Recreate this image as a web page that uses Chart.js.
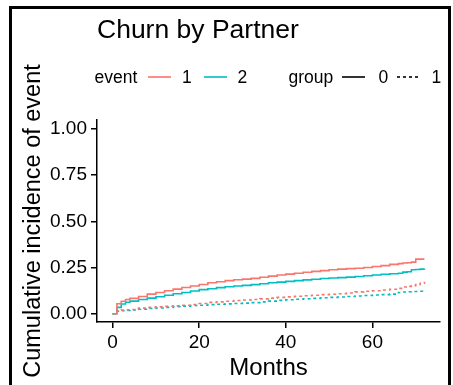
<!DOCTYPE html>
<html>
<head>
<meta charset="utf-8">
<script src="https://cdn.jsdelivr.net/npm/chart.js@4.4.1/dist/chart.umd.min.js"></script>
<style>
  html, body { margin: 0; padding: 0; background: #fff; overflow: hidden; }
  #wrap { position: relative; width: 453px; height: 385px; }
  #frame { position: absolute; left: 9px; top: 6px; width: 436px; height: 400px; border: 3px solid #000; pointer-events: none; }
  #chart { position: absolute; left: 0; top: 0; }
</style>
</head>
<body>
<div id="wrap">
  <canvas id="chart" width="453" height="385"></canvas>
  <div id="frame"></div>
</div>
<script>
// cumulative incidence by month, event (1 = churn, 2 = competing) x partner group
const months = [0, 1, 2, 3, 4, 6, 8, 10, 12, 14, 16, 18, 20, 22, 24, 26, 28, 30, 32, 34, 36, 38,
  40, 42, 44, 46, 48, 50, 52, 54, 56, 58, 60, 62, 64, 66, 67, 68, 69, 70, 71, 72];

const event1Group0 = [0, 0.054, 0.067, 0.077, 0.083, 0.093, 0.106, 0.115, 0.124, 0.133, 0.142, 0.150,
  0.158, 0.167, 0.173, 0.179, 0.184, 0.187, 0.191, 0.197, 0.203, 0.209, 0.214, 0.219, 0.224, 0.229,
  0.233, 0.238, 0.241, 0.244, 0.246, 0.250, 0.255, 0.260, 0.267, 0.271, 0.274, 0.276, 0.279, 0.295,
  0.295, 0.295];

const event2Group0 = [0, 0.034, 0.052, 0.062, 0.068, 0.077, 0.084, 0.092, 0.100, 0.108, 0.115, 0.123,
  0.130, 0.135, 0.141, 0.146, 0.150, 0.153, 0.157, 0.162, 0.167, 0.171, 0.175, 0.179, 0.183, 0.186,
  0.190, 0.193, 0.195, 0.198, 0.201, 0.205, 0.209, 0.213, 0.216, 0.219, 0.225, 0.227, 0.238, 0.239,
  0.241, 0.243];

const event1Group1 = [0, 0.016, 0.019, 0.021, 0.023, 0.030, 0.034, 0.037, 0.040, 0.043, 0.046, 0.050,
  0.055, 0.061, 0.064, 0.067, 0.071, 0.074, 0.077, 0.080, 0.084, 0.088, 0.091, 0.094, 0.097, 0.100,
  0.103, 0.105, 0.108, 0.112, 0.118, 0.121, 0.124, 0.128, 0.132, 0.137, 0.144, 0.148, 0.152, 0.157,
  0.165, 0.173];

const event2Group1 = [0, 0.013, 0.016, 0.018, 0.020, 0.024, 0.028, 0.031, 0.034, 0.038, 0.041, 0.044,
  0.046, 0.049, 0.051, 0.053, 0.055, 0.057, 0.060, 0.064, 0.068, 0.072, 0.075, 0.078, 0.081, 0.083,
  0.086, 0.088, 0.090, 0.093, 0.096, 0.098, 0.101, 0.103, 0.106, 0.115, 0.117, 0.119, 0.120, 0.120,
  0.121, 0.122];

const xTicks = [0, 20, 40, 60];
const yTicks = [0, 0.25, 0.5, 0.75, 1];
const eventLabels = ['1', '2'];
const groupLabels = ['0', '1'];

const RED = '#F8766D';
const CYAN = '#00BFC4';
const FONT = '"Liberation Sans", Arial, sans-serif';
const DOTS = [3, 3];

const toPoints = vals => months.map((m, i) => ({x: m, y: vals[i]}));

function series(label, vals, color, dashed) {
    return {
        label: label,
        data: toPoints(vals),
        borderColor: color,
        borderWidth: 1.6,
        borderDash: dashed ? DOTS : [],
        pointRadius: 0,
        stepped: true,
        fill: false
    };
}

// title + ggplot-style two-part legend drawn straight onto the canvas
const headerPlugin = {
    id: 'header',
    afterDraw(chart) {
        const ctx = chart.ctx;
        ctx.save();
        ctx.fillStyle = '#000';
        ctx.textBaseline = 'alphabetic';
        ctx.font = '26.5px ' + FONT;
        ctx.fillText('Churn by Partner', 97, 38);

        ctx.font = '17.5px ' + FONT;
        const ly = 83, lineY = 77;
        const key = (x0, color, dash) => {
            ctx.beginPath();
            ctx.setLineDash(dash);
            ctx.strokeStyle = color;
            ctx.lineWidth = 1.6;
            ctx.moveTo(x0, lineY);
            ctx.lineTo(x0 + 23, lineY);
            ctx.stroke();
            ctx.setLineDash([]);
        };
        ctx.fillText('event', 94.5, ly);
        key(148, RED, []);
        ctx.fillText(eventLabels[0], 182, ly);
        key(204, CYAN, []);
        ctx.fillText(eventLabels[1], 237.5, ly);

        ctx.fillText('group', 288.5, ly);
        key(342, '#000', []);
        ctx.fillText(groupLabels[0], 378.5, ly);
        key(397, '#000', DOTS);
        ctx.fillText(groupLabels[1], 431.5, ly);
        ctx.restore();
    }
};

const axisStyle = {
    border: {display: true, color: '#000', width: 1.5},
    grid: {display: true, drawOnChartArea: false, drawTicks: true, tickLength: 6, color: '#000', lineWidth: 1.5}
};

new Chart(document.getElementById('chart'), {
    type: 'line',
    data: {
        datasets: [
            series('1 / 0', event1Group0, RED, false),
            series('2 / 0', event2Group0, CYAN, false),
            series('1 / 1', event1Group1, RED, true),
            series('2 / 1', event2Group1, CYAN, true)
        ]
    },
    options: {
        responsive: false,
        animation: false,
        devicePixelRatio: 1,
        layout: {padding: {left: 0, top: 120, right: 13, bottom: 0}},
        plugins: {legend: {display: false}, tooltip: {enabled: false}},
        scales: {
            x: {
                type: 'linear',
                min: -3.6,
                max: 75.6,
                ...axisStyle,
                afterFit(scale) { scale.height = 63; },
                afterBuildTicks(scale) { scale.ticks = xTicks.map(v => ({value: v})); },
                ticks: {color: '#000', padding: 3, font: {family: FONT, size: 19}, maxRotation: 0},
                title: {display: true, text: 'Months', color: '#000', font: {family: FONT, size: 24, lineHeight: 1}, padding: {top: 0, bottom: 5}}
            },
            y: {
                type: 'linear',
                min: -0.045,
                max: 1.048,
                ...axisStyle,
                afterFit(scale) { scale.width = 97; },
                afterBuildTicks(scale) { scale.ticks = yTicks.map(v => ({value: v})); },
                ticks: {color: '#000', padding: 4, font: {family: FONT, size: 19}, callback: v => v.toFixed(2)},
                title: {display: true, text: 'Cumulative incidence of event', color: '#000', font: {family: FONT, size: 23.5, lineHeight: 1}, padding: {top: 22, bottom: 0}}
            }
        }
    },
    plugins: [headerPlugin]
});
</script>
</body>
</html>
